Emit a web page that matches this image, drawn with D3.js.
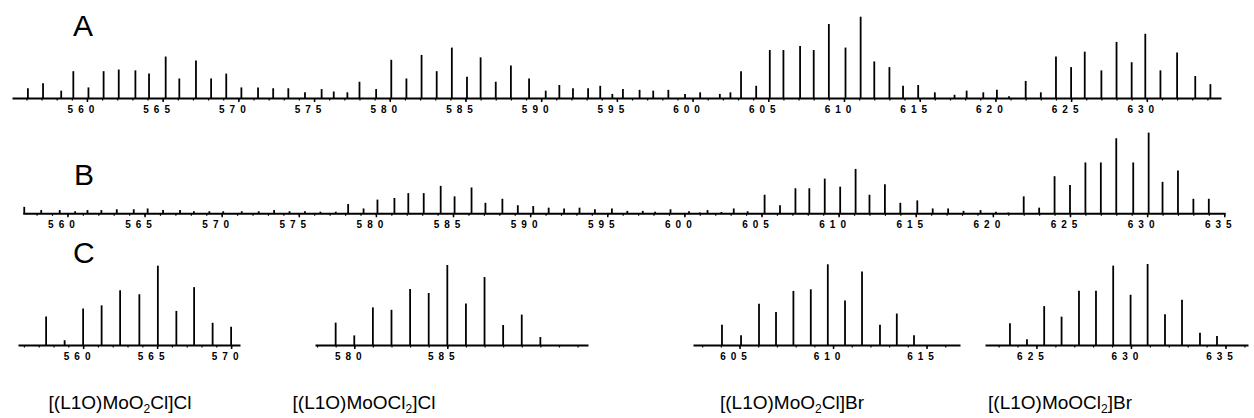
<!DOCTYPE html>
<html>
<head>
<meta charset="utf-8">
<script src="https://cdn.jsdelivr.net/npm/d3@7"></script>
<style>
body { margin: 0; background: #fff; }
svg { display: block; }
.stick { stroke: #000; stroke-width: 1.8; }
.axis path { stroke: #000; stroke-width: 2; }
.axis line { stroke: #000; stroke-width: 1.5; }
.minor line { stroke-width: 1.2; }
.axis text { font-family: "Liberation Sans", Arial, sans-serif; font-weight: bold; font-size: 10px; letter-spacing: 5px; fill: #000; }
.panelLetter { font-family: "Liberation Sans", Arial, sans-serif; font-size: 30px; fill: #000; }
.compound { font-family: "Liberation Sans", Arial, sans-serif; font-size: 19px; fill: #000; }
</style>
</head>
<body>
<div id="chart"></div>
<script>

// ---- data (m/z, relative intensity) ----
var panelAMz = [556.1, 557.1, 558.3, 559.1, 560.1, 561.1, 562.1, 563.2, 564.1, 565.2, 566.1, 567.2, 568.2, 569.2,
    570.2, 571.3, 572.3, 573.3, 574.4, 575.5, 576.3, 577.2, 578.0, 579.1, 580.1, 581.1, 582.1, 583.1, 584.1,
    585.1, 586.0, 587.0, 588.0, 589.2, 590.3, 591.2, 592.1, 593.1, 593.9, 594.7, 595.4, 596.5, 597.4, 598.4,
    599.5, 600.5, 601.8, 602.5, 603.2, 604.2, 605.1, 606.0, 607.1, 608.0, 609.0, 610.1, 611.1, 612.0, 613.0,
    613.9, 614.9, 616.0, 617.3, 618.1, 619.2, 620.1, 620.9, 622.0, 623.0, 624.0, 625.0, 625.9, 627.0, 628.0,
    629.0, 629.9, 630.9, 632.0, 633.2, 634.2];
var panelAIntensity = [12, 18, 9, 33, 13, 33, 35, 34, 30, 51, 24, 46, 24, 30,
    13, 13, 12, 12, 7, 11, 8, 7, 20, 11, 47, 24, 53, 33, 62,
    26, 50, 20, 40, 24, 9, 16, 12, 12, 15, 5, 11, 10, 9, 10,
    5, 7, 5, 7, 33, 15, 59, 59, 64, 59, 91, 62, 100, 45, 38,
    15, 16, 7, 4, 9, 7, 10, 2, 21, 7, 51, 38, 57, 34, 69,
    44, 79, 34, 56, 27, 17];

var panelBMz = [557.2, 558.3, 559.5, 560.5, 561.3, 562.2, 563.2, 564.3, 565.2, 566.2, 567.3, 568.2, 569.2, 570.1,
    571.3, 572.4, 573.4, 574.4, 575.4, 576.4, 577.4, 578.2, 579.2, 580.1, 581.2, 582.1, 583.1, 584.2, 585.1,
    586.2, 587.1, 588.2, 589.2, 590.2, 591.2, 592.2, 593.2, 594.2, 595.3, 596.3, 597.3, 598.1, 599.1, 600.3,
    601.0, 601.5, 602.4, 603.2, 604.1, 605.2, 606.2, 607.2, 608.1, 609.1, 610.1, 611.1, 612.0, 613.0, 614.0,
    615.1, 616.1, 617.1, 618.1, 619.2, 620.2, 621.0, 622.0, 623.0, 624.0, 625.0, 626.0, 627.0, 628.0, 629.1,
    630.1, 631.0, 632.0, 633.0, 634.0];
var panelBIntensity = [8, 4, 4, 2.5, 4, 4, 5, 5, 6, 4, 4, 2.5, 2.5, 2.5,
    2.5, 2.5, 4, 2.5, 2.5, 2, 2, 11.5, 6, 17, 19, 25, 25, 34, 21,
    32, 13, 18, 10, 9, 7, 6, 7, 5, 6, 3, 3, 2, 5, 2.5,
    1, 4, 1.6, 6, 2.5, 23, 10, 31, 31, 43, 33, 55, 23, 36, 13,
    16, 6, 6, 3, 4, 2, 1, 21, 7, 46, 35, 63, 63, 93, 63,
    100, 39, 53, 18, 18];

// calculated patterns (panel C)
var c1Mz = [557.5, 558.75, 560.0, 561.25, 562.5, 563.8, 565.05, 566.3, 567.5, 568.75, 570.0];
var c1Intensity = [36, 6, 46, 50, 69, 64, 100, 43, 73, 28, 23];
var c2Mz = [579, 580, 581, 582, 583, 584, 585, 586, 587, 588, 589, 590];
var c2Intensity = [28, 12, 47, 44, 70, 65, 100, 52, 85, 25, 38, 10];
var c3Mz = [604.06, 605.08, 606.04, 606.95, 607.88, 608.81, 609.72, 610.64, 611.55, 612.51, 613.41, 614.33];
var c3Intensity = [25, 12, 51, 41, 67, 69, 100, 55, 91, 25, 39, 12];
var c4Mz = [623.6, 624.5, 625.41, 626.33, 627.25, 628.15, 629.06, 629.98, 630.88, 631.8, 632.7, 633.65, 634.55];
var c4Intensity = [27, 7, 48, 35, 67, 67, 98, 62, 100, 38, 56, 15, 11];

var panelATicks = d3.range(560, 631, 5);
var panelBTicks = d3.range(560, 636, 5);
var c1Ticks = [560, 565, 570];
var c2Ticks = [580, 585];
var c3Ticks = [605, 610, 615];
var c4Ticks = [625, 630, 635];

var panelLetters = ["A", "B", "C"];
var compoundLabels = [
    [["[(L1O)MoO", 0], ["2", 1], ["Cl]Cl", 0]],
    [["[(L1O)MoOCl", 0], ["2", 1], ["]Cl", 0]],
    [["[(L1O)MoO", 0], ["2", 1], ["Cl]Br", 0]],
    [["[(L1O)MoOCl", 0], ["2", 1], ["]Br", 0]]
];

/**
 * One stick spectrum with its own m/z axis
 */
function SpectrumPanel(svg, opts){
    var self = this;
    self.svg = svg;
    self.opts = opts;
    self.init();
}

SpectrumPanel.prototype.init = function(){
    var self = this;
    var o = self.opts;
    self.g = self.svg.append("g");
    self.xScale = d3.scaleLinear().domain(o.domain).range([o.left, o.right]);
    self.yScale = d3.scaleLinear().domain([0, 100]).range([o.axisY, o.axisY - o.height]);
};

SpectrumPanel.prototype.update = function(mz, intensity, ticks){
    var self = this;
    var o = self.opts;
    var data = mz.map(function(m, i){ return {mz: m, value: intensity[i]}; });

    //minor ticks at every mass unit
    var minor = d3.range(Math.ceil(o.domain[0]), Math.floor(o.domain[1]) + 1);
    var minorAxis = d3.axisBottom(self.xScale)
        .tickValues(minor)
        .tickSize(2.5)
        .tickSizeOuter(0)
        .tickFormat("");
    self.g.append("g")
        .attr("class", "axis minor")
        .attr("transform", "translate(0," + o.axisY + ")")
        .call(minorAxis)
        .select(".domain").remove();

    var axis = d3.axisBottom(self.xScale)
        .tickValues(ticks)
        .tickSize(4)
        .tickSizeOuter(0)
        .tickPadding(4)
        .tickFormat(d3.format("d"));
    self.g.append("g")
        .attr("class", "axis")
        .attr("transform", "translate(0," + o.axisY + ")")
        .call(axis)
        .selectAll("text")
        .attr("dx", -4);

    self.g.selectAll(".stick")
        .data(data)
        .enter()
        .append("line")
        .attr("class", "stick")
        .attr("x1", function(d){ return self.xScale(d.mz); })
        .attr("x2", function(d){ return self.xScale(d.mz); })
        .attr("y1", self.yScale(0))
        .attr("y2", function(d){ return self.yScale(d.value); });
};

var svg = d3.select("#chart").append("svg")
    .attr("width", 1254)
    .attr("height", 418);

var panelA = new SpectrumPanel(svg, {domain: [555.05, 634.9], left: 12, right: 1221, axisY: 98, height: 81.3});
panelA.update(panelAMz, panelAIntensity, panelATicks);

var panelB = new SpectrumPanel(svg, {domain: [557.1, 635.05], left: 22.7, right: 1225, axisY: 213.3, height: 80.7});
panelB.update(panelBMz, panelBIntensity, panelBTicks);

var c1 = new SpectrumPanel(svg, {domain: [555.6, 570.6], left: 18, right: 240, axisY: 345, height: 79.3});
c1.update(c1Mz, c1Intensity, c1Ticks);

var c2 = new SpectrumPanel(svg, {domain: [577.89, 592.56], left: 315, right: 588, axisY: 345, height: 80});
c2.update(c2Mz, c2Intensity, c2Ticks);

var c3 = new SpectrumPanel(svg, {domain: [602.51, 616.79], left: 693, right: 960, axisY: 345, height: 80.7});
c3.update(c3Mz, c3Intensity, c3Ticks);

var c4 = new SpectrumPanel(svg, {domain: [622.28, 636.19], left: 985, right: 1248, axisY: 345, height: 81});
c4.update(c4Mz, c4Intensity, c4Ticks);

// panel letters
var letterPos = [[73, 36], [74, 185], [73, 263]];
svg.selectAll(".panelLetter")
    .data(panelLetters)
    .enter()
    .append("text")
    .attr("class", "panelLetter")
    .attr("x", function(d, i){ return letterPos[i][0]; })
    .attr("y", function(d, i){ return letterPos[i][1]; })
    .text(function(d){ return d; });

// compound names under the calculated patterns
var labelX = [120, 364, 792, 1060];
var labels = svg.selectAll(".compound")
    .data(compoundLabels)
    .enter()
    .append("text")
    .attr("class", "compound")
    .attr("x", function(d, i){ return labelX[i]; })
    .attr("y", 413)
    .attr("text-anchor", "middle");

labels.each(function(parts){
    var t = d3.select(this);
    parts.forEach(function(p){
        t.append("tspan")
            .attr("dy", p[1] ? 4 : (t.selectAll("tspan").size() > 0 ? -4 : 0))
            .style("font-size", p[1] ? "12px" : null)
            .text(p[0]);
    });
});

</script>
</body>
</html>
